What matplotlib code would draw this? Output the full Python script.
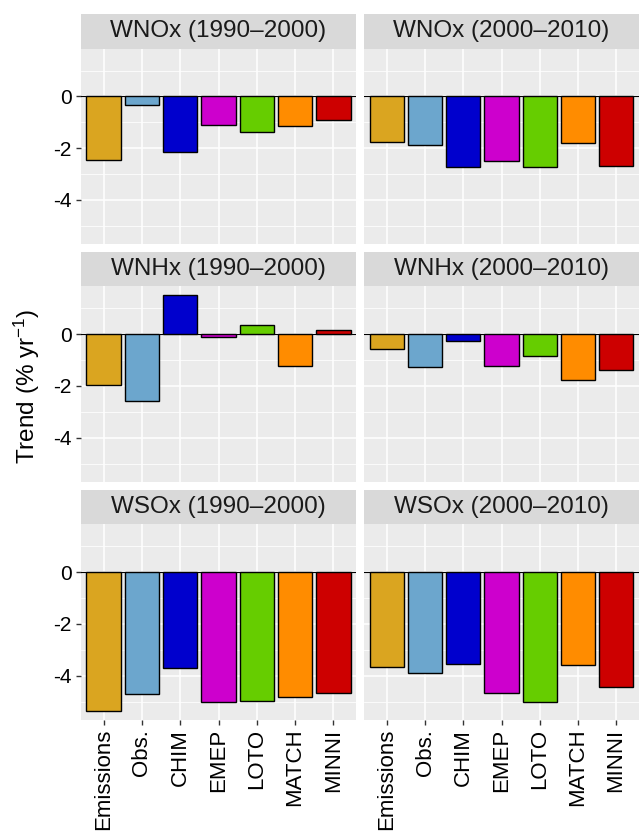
import matplotlib
matplotlib.use("Agg")
import matplotlib.pyplot as plt
import numpy as np

plt.rcParams["font.family"] = ["Liberation Sans", "DejaVu Sans"]
plt.rcParams["mathtext.fontset"] = "custom"
plt.rcParams["mathtext.rm"] = "Liberation Sans"
plt.rcParams["mathtext.it"] = "Liberation Sans:italic"
plt.rcParams["mathtext.default"] = "regular"
plt.rcParams["axes.unicode_minus"] = False

# ---- data ----
categories = ["Emissions", "Obs.", "CHIM", "EMEP", "LOTO", "MATCH", "MINNI"]
bar_colors = ["#DAA520", "#6CA6CD", "#0000CD", "#CD00CD", "#66CD00", "#FF8C00", "#CD0000"]

titles = [["WNOx (1990\u20132000)", "WNOx (2000\u20132010)"],
          ["WNHx (1990\u20132000)", "WNHx (2000\u20132010)"],
          ["WSOx (1990\u20132000)", "WSOx (2000\u20132010)"]]

wnox_1990_2000 = [-2.48, -0.34, -2.15, -1.10, -1.39, -1.15, -0.93]
wnox_2000_2010 = [-1.75, -1.90, -2.75, -2.50, -2.75, -1.82, -2.70]
wnhx_1990_2000 = [-1.95, -2.59, 1.51, -0.10, 0.36, -1.25, 0.15]
wnhx_2000_2010 = [-0.58, -1.26, -0.28, -1.23, -0.85, -1.77, -1.38]
wsox_1990_2000 = [-5.37, -4.71, -3.72, -5.01, -4.99, -4.84, -4.67]
wsox_2000_2010 = [-3.66, -3.88, -3.55, -4.68, -5.02, -3.60, -4.45]

panel_data = [[wnox_1990_2000, wnox_2000_2010],
              [wnhx_1990_2000, wnhx_2000_2010],
              [wsox_1990_2000, wsox_2000_2010]]

y_ticks = [-4, -2, 0]
y_minor = [-5, -3, -1, 1]
y_label = "Trend (% yr$^{-1}$)"

# ---- layout (pixels) ----
W, H = 639, 831
fig = plt.figure(figsize=(W / 100, H / 100), dpi=100)

def box(l, t, r, b):
    return [l / W, 1 - b / H, (r - l) / W, (b - t) / H]

cols = [(80.7, 356.3), (364.0, 639.0)]
rows = [(14.0, 48.5, 244.0), (252.0, 286.0, 482.0), (490.0, 524.0, 720.0)]

all_vals = np.concatenate([np.array(v) for r in panel_data for v in r])
lo, hi = all_vals.min(), all_vals.max()
pad = 0.05 * (hi - lo)
ylim = (lo - pad, hi + pad)

x = np.arange(1, len(categories) + 1)

for i, (st, pt, pb) in enumerate(rows):
    for j, (cl, cr) in enumerate(cols):
        ax = fig.add_axes(box(cl, pt, cr, pb))
        ax.set_facecolor("#EBEBEB")
        for s in ax.spines.values():
            s.set_visible(False)
        ax.set_xlim(0.4, len(categories) + 0.6)
        ax.set_ylim(*ylim)
        for yv in y_minor:
            ax.axhline(yv, color="white", lw=0.55, zorder=1)
        for yv in y_ticks:
            ax.axhline(yv, color="white", lw=1.1, zorder=1)
        for xv in x:
            ax.axvline(xv, color="white", lw=1.1, zorder=1)
        ax.axhline(0, color="black", lw=0.8, zorder=2)
        ax.bar(x, panel_data[i][j], width=0.9, color=bar_colors,
               edgecolor="black", linewidth=1.0, zorder=3)
        ax.set_yticks(y_ticks)
        ax.set_xticks(x)
        ax.tick_params(axis="both", length=3.8, width=1.0, color="#333333",
                       labelcolor="black", pad=2.5)
        ax.tick_params(axis="y", labelsize=15)
        ax.tick_params(axis="x", labelsize=16)
        if j == 0:
            ax.set_yticklabels([str(t) for t in y_ticks])
        else:
            ax.tick_params(axis="y", left=False, labelleft=False)
        if i == len(rows) - 1:
            ax.set_xticklabels(categories, rotation=90, ha="center", va="top")
        else:
            ax.tick_params(axis="x", bottom=False, labelbottom=False)

        sax = fig.add_axes(box(cl, st, cr, pt))
        sax.set_facecolor("#D9D9D9")
        for s in sax.spines.values():
            s.set_visible(False)
        sax.set_xticks([])
        sax.set_yticks([])
        sax.text(0.5, 0.5, titles[i][j], ha="center", va="center",
                 fontsize=17.5, color="#1A1A1A", transform=sax.transAxes)

fig.text(27 / W, 1 - 386 / H, y_label, rotation=90, ha="center", va="center",
         fontsize=17.5, color="black")

fig.savefig("out.png", dpi=100)
